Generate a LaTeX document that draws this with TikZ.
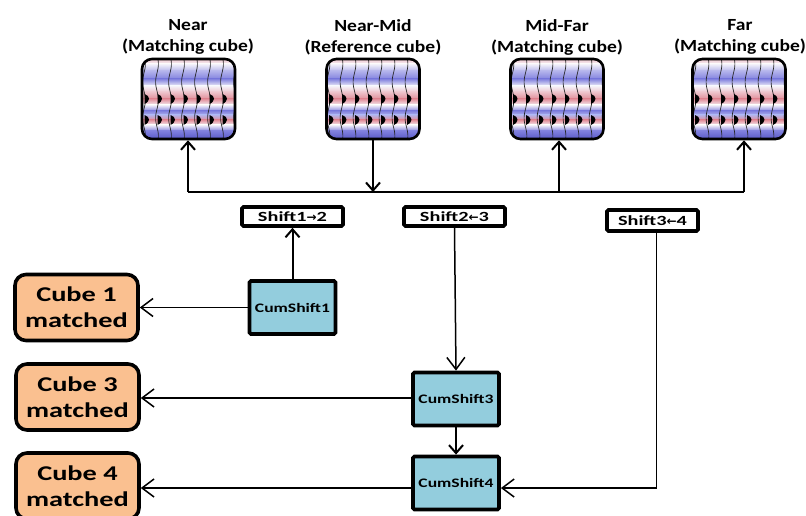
\documentclass[tikz,border=0pt]{standalone}
\usepackage{fontspec}
\setmainfont{Carlito}
\newfontfamily\titlefont{Carlito}[FakeStretch=1.15]
\newfontfamily\widefont{Carlito}[FakeStretch=1.35]
\newfontfamily\shiftfont{Carlito}[FakeStretch=1.45]
\newfontfamily\symf{DejaVu Sans}
\usetikzlibrary{arrows.meta,calc}

% colours of the seismic sections and boxes
\definecolor{sdeep}{RGB}{88,88,198}
\definecolor{sblue}{RGB}{128,128,222}
\definecolor{sblueL}{RGB}{180,180,236}
\definecolor{swhite}{RGB}{246,244,250}
\definecolor{spink}{RGB}{238,196,204}
\definecolor{sred}{RGB}{224,140,152}
\definecolor{matchfill}{RGB}{250,192,144}
\definecolor{cumfill}{RGB}{147,205,221}

\tikzset{
  seiscube/.style={rounded corners=10pt, outer sep=0pt,
    minimum width=93pt, minimum height=80pt, inner sep=0pt},
  seisborder/.style={draw, line width=2.6pt, rounded corners=10pt},
  title/.style={align=center, font=\fontsize{17}{21}\selectfont\titlefont\bfseries},
  matchbox/.style={draw, line width=3.6pt, rounded corners=11pt, fill=matchfill,
    minimum width=123pt, minimum height=66pt, inner sep=0pt, align=center,
    font=\fontsize{21}{26}\selectfont\widefont\bfseries},
  cumbox/.style={draw, line width=3.8pt, rounded corners=1.5pt, fill=cumfill,
    minimum width=86pt, minimum height=53pt, inner sep=0pt,
    font=\fontsize{13}{15}\selectfont\widefont\bfseries},
  shiftbox/.style={draw, line width=3.6pt, rounded corners=1.5pt, fill=white,
    minimum width=101pt, minimum height=19pt, inner sep=0pt,
    font=\fontsize{14}{15}\selectfont\shiftfont\bfseries},
  upline/.style={line width=2pt, -{Straight Barb[length=8pt,width=14pt]}},
  thinline/.style={line width=1.5pt, -{Straight Barb[length=12pt,width=18pt]}},
  plainline/.style={line width=1.8pt}
}

% amplitude bands, wavy traces with black peaks, then the frame of a cube node
\newcommand\seistraces[1]{%
  \begin{scope}
    \clip[rounded corners=10pt] (#1.south west) rectangle (#1.north east);
    \begin{scope}[shift={(#1.north west)}]
      \foreach \ta/\ca/\tb/\cb in {0/spink/5/swhite, 5/swhite/12/sblueL,
          12/sblueL/20/sblue, 20/sblue/27/swhite, 27/swhite/33/spink,
          33/spink/40/sred, 40/sred/46/swhite, 46/swhite/52/sblue,
          52/sblue/56/sblueL, 56/sblueL/61/sred, 61/sred/66/swhite,
          66/swhite/72/sblue, 72/sblue/80/sdeep} {
        \fill[top color=\ca, bottom color=\cb, draw=none]
          (-1,-\ta+0.2) rectangle (95,-\tb-0.4);
      }
      \foreach \i in {0,...,7} {
        \pgfmathsetmacro{\xx}{2+13*\i}
        \draw[line width=0.7pt, black!85]
          plot[variable=\t, domain=-2:82, samples=43, smooth]
          ({\xx+1.4*sin(\t*10+40)}, {-\t});
        \fill[black] (\xx+0.5,-35) .. controls (\xx+6.5,-37) and (\xx+6.5,-42) .. (\xx+0.5,-45) -- cycle;
        \fill[black] (\xx+0.5,-56) .. controls (\xx+6.5,-58) and (\xx+6.5,-63) .. (\xx+0.5,-66) -- cycle;
      }
    \end{scope}
  \end{scope}
  \draw[seisborder] (#1.south west) rectangle (#1.north east);
}

\newcommand\arrR{{\symf\fontsize{12}{12}\selectfont→}}
\newcommand\arrL{{\symf\fontsize{12}{12}\selectfont←}}

\begin{document}
\begin{tikzpicture}[x=1pt, y=1pt]
  \useasboundingbox (0,0) rectangle (806,-515);

  % titles of the four input cubes
  \node[title] (t1) at (188,-37) {Near\\(Matching cube)};
  \node[title] (t2) at (373,-37) {Near-Mid\\(Reference cube)};
  \node[title] (t3) at (557,-37) {Mid-Far\\(Matching cube)};
  \node[title] (t4) at (740,-37) {Far\\(Matching cube)};

  % seismic cubes
  \node[seiscube] (near) at (188.5,-99) {};
  \node[seiscube] (nm)   at (373,-99) {};
  \node[seiscube] (mf)   at (557,-99) {};
  \node[seiscube] (far)  at (739,-99) {};
  \seistraces{near}
  \seistraces{nm}
  \seistraces{mf}
  \seistraces{far}

  % distribution bus
  \coordinate (bNear) at (188,-192);
  \coordinate (bNM)   at (373,-192);
  \coordinate (bMF)   at (559,-192);
  \coordinate (bFar)  at (744,-192);
  \draw[plainline] (bNear) -- (bFar);
  \draw[upline] ([yshift=-1.3pt]nm.south) -- (bNM);
  \draw[upline] (bNear) -- ([yshift=-1.3pt]bNear |- near.south);
  \draw[upline] (bMF) -- ([yshift=-1.3pt]bMF |- mf.south);
  \draw[upline] (bFar) -- ([yshift=-1.3pt]bFar |- far.south);

  % pairwise shifts
  \node[shiftbox] (s12) at (292.5,-216.5) {Shift1\arrR2};
  \node[shiftbox] (s23) at (454.5,-216.5) {Shift2\arrL3};
  \node[shiftbox, minimum width=91pt, minimum height=21pt] (s34) at (652.5,-220.5) {Shift3\arrL4};

  % cumulative shifts
  \node[cumbox] (c1) at (292.5,-307.5) {CumShift1};
  \node[cumbox] (c3) at (456,-399) {CumShift3};
  \node[cumbox] (c4) at (456,-483) {CumShift4};

  % matched outputs
  \node[matchbox] (m1) at (76.5,-307.5) {Cube 1\\matched};
  \node[matchbox] (m3) at (77.5,-397) {Cube 3\\matched};
  \node[matchbox] (m4) at (77.5,-486) {Cube 4\\matched};

  % connections
  \draw[upline] (c1.north) -- (s12.south);
  \draw[thinline] (c1.west) -- (m1.east);
  \draw[thinline] (s23.south) -- (c3.north);
  \draw[thinline] (c3.west |- 0,-398) -- (m3.east |- 0,-398);
  \draw[upline] (c3.south) -- (c4.north);
  \draw[thinline] (c4.west |- 0,-488) -- (m4.east |- 0,-488);
  \coordinate (bend) at (s34.south |- 0,-488);
  \draw[thinline] ($(s34.south)+(4,0)$) -- ($(bend)+(4,0)$) -- (c4.east |- bend);
\end{tikzpicture}
\end{document}
